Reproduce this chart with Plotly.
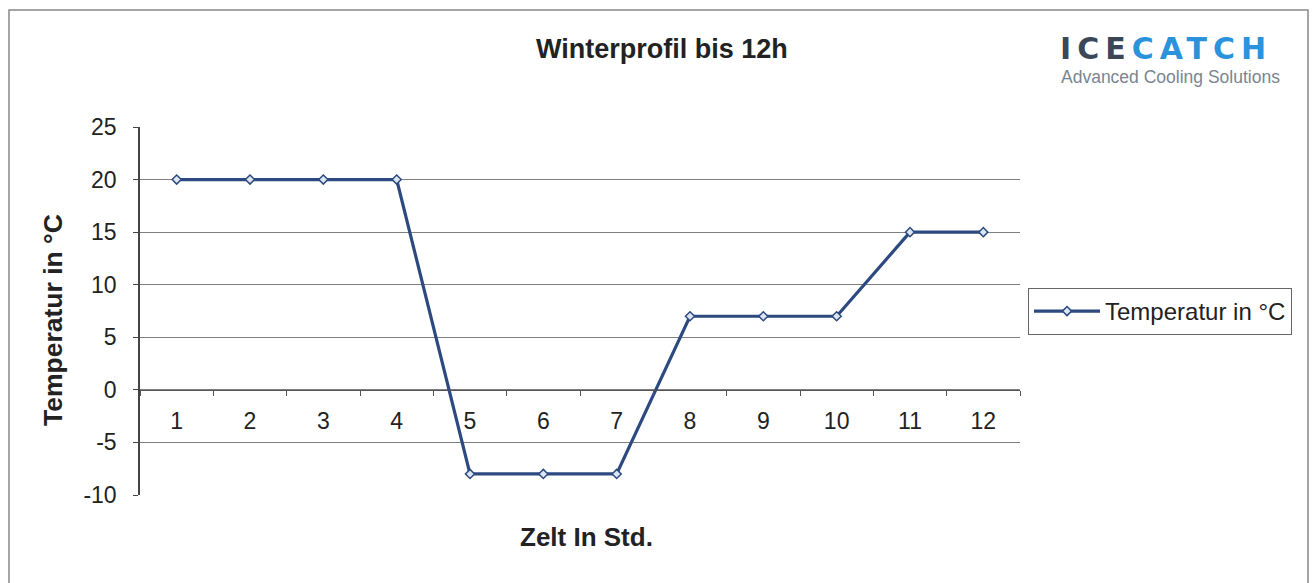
import plotly.graph_objects as go

hours = [str(i) for i in range(1, 13)]
temps = [20, 20, 20, 20, -8, -8, -8, 7, 7, 7, 15, 15]
y_ticks = [-10, -5, 0, 5, 10, 15, 20, 25]
y_ticktext = ["-10", "-5", "0", "5", "10", "15", "20", "25"]

W, H = 1314, 583
L, R, T, B = 140, 1020, 127, 495

def px(x):
    return (x - L) / (R - L)

def py(y):
    return (B - y) / (B - T)

fig = go.Figure()
fig.add_trace(go.Scatter(
    x=hours, y=temps, mode="lines+markers", name="Temperatur in °C",
    line=dict(color="#2C4A80", width=3.2),
    marker=dict(symbol="diamond", size=7, color="#DCE6F2",
                line=dict(color="#2C4A80", width=1.5)),
))

fig.update_layout(
    width=W, height=H,
    margin=dict(l=L, r=W - R, t=T, b=H - B),
    paper_bgcolor="white", plot_bgcolor="white",
    font=dict(family="Liberation Sans, Arial, sans-serif", color="#222222"),
    showlegend=True,
    legend=dict(
        x=px(1028), y=py(288), xanchor="left", yanchor="top",
        bordercolor="#666666", borderwidth=1, bgcolor="white",
        font=dict(size=24, color="#222222"),
        itemwidth=66,
    ),
    xaxis=dict(
        type="category", categoryorder="array", categoryarray=hours,
        range=[-0.5, 11.5], anchor="free", position=10 / 35,
        showline=True, linecolor="#555555", linewidth=1,
        ticks="outside", ticklen=5, tickcolor="#555555", tickson="boundaries",
        showgrid=False, tickfont=dict(size=23, color="#222222"),
        ticklabelstandoff=11,
    ),
    yaxis=dict(
        range=[-10, 25], tickvals=y_ticks, ticktext=y_ticktext,
        showgrid=True, gridcolor="#7F7F7F",
        gridwidth=1, zeroline=False, showline=True, linecolor="#444444",
        linewidth=1.5, ticks="outside", ticklen=5, tickcolor="#444444",
        tickfont=dict(size=23, color="#222222"), ticklabelstandoff=12,
    ),
)

def note(x, y, text, size, color="#222222", xanchor="center", angle=0, family=None):
    f = dict(size=size, color=color)
    if family:
        f["family"] = family
    fig.add_annotation(x=px(x), y=py(y), xref="paper", yref="paper",
                       xanchor=xanchor, yanchor="middle", text=text,
                       showarrow=False, textangle=angle, font=f)

# Title and axis titles
note(662, 49, "<b>Winterprofil bis 12h</b>", 27)
note(53, 320, "<b>Temperatur in °C</b>", 26.5, angle=-90)
note(586, 537, "<b>Zelt In Std.</b>", 26)

# Logo as text
note(1058, 48,
     "<b><span style='color:#3B4756;letter-spacing:6px'>ICE</span>"
     "<span style='color:#2B93DC;letter-spacing:6px'>CATCH</span></b>",
     30, xanchor="left", family="DejaVu Sans, Arial, sans-serif")
note(1059, 77, "Advanced Cooling Solutions", 17.5, color="#7A8591", xanchor="left")

# Outer chart frame
fig.add_shape(type="rect", xref="paper", yref="paper",
              x0=px(9), x1=px(1308), y0=py(600), y1=py(10),
              line=dict(color="#888888", width=1.5), layer="below")

fig.write_html("out.html", config={"displayModeBar": False},
               post_script="document.body.style.margin='0';")
